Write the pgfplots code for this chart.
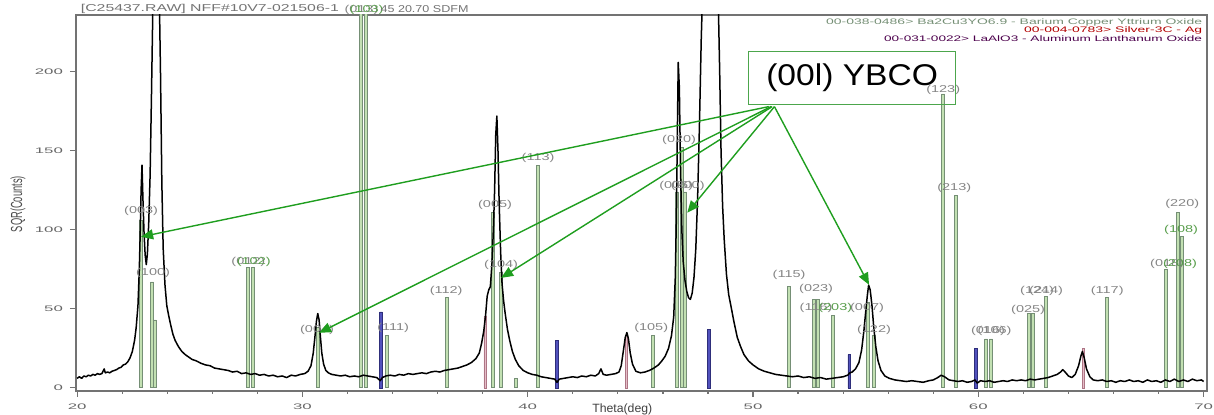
\documentclass[border=0pt]{standalone}
\usepackage{fontspec}
\setmainfont{Liberation Sans}
\usepackage{graphicx}
\usepackage{pgfplots}
\pgfplotsset{compat=1.18}
\usepackage{pgfplotstable}
\usetikzlibrary{arrows.meta}

\definecolor{ybcofill}{rgb}{0.76,0.88,0.70}
\definecolor{ybcoedge}{rgb}{0.46,0.56,0.46}
\definecolor{lafill}{rgb}{0.32,0.32,0.74}
\definecolor{laedge}{rgb}{0.18,0.18,0.48}
\definecolor{agfill}{rgb}{0.90,0.74,0.78}
\definecolor{agedge}{rgb}{0.68,0.46,0.52}
\definecolor{arrowgreen}{rgb}{0.12,0.62,0.12}
\definecolor{boxgreen}{rgb}{0.30,0.65,0.30}
\definecolor{labelgray}{rgb}{0.52,0.52,0.52}
\definecolor{labelgreen}{rgb}{0.35,0.62,0.30}

% measured scan, 2theta (deg) vs sqrt(counts)
\pgfplotstableread{
tt h
20.00 6
20.10 7
20.20 6
20.30 7.5
20.40 7
20.50 8
20.60 7.5
20.70 8.5
20.80 8
20.90 9
21.00 8.5
21.10 9
21.20 12
21.25 9.5
21.35 10
21.45 9.5
21.55 10.5
21.65 11
21.75 11.5
21.85 12.5
21.95 13
22.05 14.5
22.15 15
22.25 16.5
22.35 19
22.45 23
22.55 30
22.62 38
22.70 52
22.76 75
22.80 98
22.84 125
22.88 141
22.92 120
22.97 98
23.02 84
23.07 78
23.12 85
23.18 105
23.24 135
23.30 185
23.36 240
23.42 275
23.50 285
23.58 280
23.64 255
23.70 200
23.76 130
23.82 88
23.90 65
23.98 52
24.06 46
24.15 40
24.25 34
24.35 30
24.50 26
24.65 23
24.80 21
24.95 19.5
25.10 18
25.30 17
25.50 15.5
25.70 14.5
25.90 14
26.10 12.5
26.30 12
26.50 11.5
26.70 11
26.90 10
27.10 10.5
27.30 9
27.50 9.5
27.70 8.5
27.90 9
28.10 8
28.30 8.5
28.50 7.5
28.70 8
28.90 7
29.10 7.5
29.30 6.5
29.50 8
29.70 7.5
29.90 8.5
30.10 9
30.25 10.5
30.38 14
30.48 22
30.56 33
30.62 42
30.68 47
30.74 43
30.80 32
30.86 22
30.94 15
31.04 11
31.15 9.5
31.30 8.5
31.50 8
31.70 7.5
31.90 8
32.10 7
32.30 7.5
32.50 7
32.70 8
32.90 7.5
33.10 7
33.30 6.5
33.45 4.5
33.55 6.5
33.70 7.5
33.90 8
34.10 7.5
34.30 8.5
34.50 8
34.70 9
34.90 8.5
35.10 9
35.30 9.5
35.50 9
35.70 10
35.90 10.5
36.10 10
36.30 11
36.50 11.5
36.70 12
36.90 12.5
37.10 13.5
37.30 14.5
37.50 16
37.70 18.5
37.85 22
37.95 28
38.05 36
38.13 46
38.20 58
38.27 62
38.34 64
38.42 80
38.48 102
38.53 125
38.58 160
38.63 172
38.68 150
38.73 118
38.80 85
38.86 66
38.93 55
39.00 47
39.10 37
39.20 30
39.32 23
39.45 18
39.60 14
39.80 11
40.00 9.5
40.20 8.5
40.40 8
40.60 7
40.80 6.5
41.00 6
41.20 5.5
41.30 3.5
41.40 5.5
41.60 6
41.80 6.5
42.00 7
42.20 6.5
42.40 7.5
42.60 7
42.80 8
43.00 7.5
43.15 9
43.25 12
43.35 8.5
43.50 8
43.70 8.5
43.90 9
44.05 10
44.15 14
44.25 24
44.33 32
44.40 35
44.47 31
44.55 22
44.65 15
44.80 10.5
45.00 9.5
45.20 10
45.40 11
45.60 12.5
45.80 14.5
45.95 17
46.10 20
46.25 25
46.38 33
46.48 45
46.55 70
46.60 110
46.64 160
46.68 206
46.73 190
46.78 140
46.84 100
46.90 80
46.98 68
47.06 61
47.14 57
47.22 56
47.30 60
47.38 70
47.46 88
47.54 120
47.62 165
47.70 220
47.78 260
47.90 285
48.05 295
48.20 290
48.35 275
48.45 250
48.52 200
48.58 150
48.65 115
48.72 94
48.82 72
48.92 59
49.03 51
49.15 42
49.30 32
49.45 26
49.60 21
49.80 17
50.00 14.5
50.25 12
50.50 10.5
50.75 9.5
51.00 8.5
51.25 8
51.50 7.5
51.75 7
52.00 7.5
52.25 6.5
52.50 7
52.75 6
53.00 6.5
53.25 5.5
53.50 6
53.75 6.5
54.00 7
54.20 8
54.30 9.5
54.40 10
54.55 12
54.70 16
54.82 24
54.92 36
55.00 48
55.07 58
55.13 65
55.20 62
55.28 52
55.36 38
55.45 26
55.55 17
55.68 11
55.85 7.5
56.05 6
56.30 5
56.55 4.5
56.80 4
57.05 4.5
57.30 4
57.55 3.5
57.80 4.5
58.00 5
58.20 6.5
58.35 8
58.50 7
58.70 5
58.90 4.5
59.10 4
59.30 4.5
59.50 3.5
59.70 4
59.85 5
59.95 3
60.10 4.5
60.30 4
60.50 4.5
60.70 3.5
60.90 4
61.10 4.5
61.30 4
61.50 5
61.70 4.5
61.90 5
62.10 4.5
62.30 5.5
62.50 5
62.70 5.5
62.90 6
63.10 6.5
63.30 7.5
63.50 8.5
63.65 10
63.75 11.5
63.85 10
64.00 7.5
64.15 6.5
64.30 8.5
64.45 14
64.55 20
64.62 23
64.70 19
64.80 12
64.95 7
65.10 5
65.30 4.5
65.50 5
65.70 4
65.90 4.5
66.10 3.5
66.30 4.5
66.50 4
66.70 5
66.90 4
67.10 4.5
67.30 3.5
67.50 5
67.70 4
67.90 4.5
68.10 3.5
68.30 5
68.50 4
68.70 5.5
68.90 4
69.10 5
69.30 4
69.50 5.5
69.70 4.5
69.90 5
70.00 4
}\scan

% reference pattern 00-038-0486, Ba2Cu3YO6.9
\pgfplotstableread{
tt h
22.84 106
23.33 67
23.45 43
27.59 76
27.81 76
30.70 38
32.60 260
32.83 260
33.76 33
36.42 57
38.46 111
38.82 73
39.49 6
40.46 141
45.57 33
46.63 124
46.85 152
46.99 124
51.60 64
52.71 56
52.89 56
53.56 46
55.11 54
55.37 33
58.44 186
59.01 122
60.35 31
60.57 31
62.26 47
62.43 47
63.01 58
65.72 57
68.34 75
68.87 111
69.05 96
}\ybco

% reference pattern 00-031-0022, LaAlO3
\pgfplotstableread{
tt h
33.49 48
41.30 30
48.05 37
54.27 21
59.90 25
}\lao

% reference pattern 00-004-0783, Ag
\pgfplotstableread{
tt h
38.10 45
44.37 33
64.65 25
}\silver

\newcommand{\wide}[1]{\scalebox{1.45}[1]{#1}}
\newcommand{\hkl}[4][labelgray]{%
  \node[font=\fontsize{5}{5}\selectfont, text=#1, inner sep=0pt] at (axis cs:#2,#3) {\wide{#4}};}

\begin{document}
\begin{tikzpicture}
\useasboundingbox (0,0) rectangle (607pt,207.5pt);
\begin{axis}[
  at={(38pt,12pt)}, anchor=south west,
  width=565.5pt, height=188pt, scale only axis,
  xmin=19.95, xmax=70.15, ymin=-2, ymax=236,
  clip mode=individual,
  axis line style={draw=black!55, line width=0.9pt},
  tick style={draw=black!55, line width=0.6pt},
  tick align=outside,
  major tick length=3pt, minor tick length=1.5pt,
  xtick={20,30,40,50,60,70}, minor x tick num=4,
  ytick={0,50,100,150,200},
  xtick pos=bottom, ytick pos=left,
  /pgf/number format/assume math mode=true,
  xticklabel={\scalebox{2.1}[1]{\pgfmathprintnumber{\tick}}},
  yticklabel={\scalebox{2.1}[1]{\pgfmathprintnumber{\tick}}},
  ticklabel style={font=\fontsize{4}{4}\selectfont, text=black!60},
  xlabel={\resizebox{30pt}{\height}{\fontsize{6}{6}\selectfont Theta(deg)}},
  xlabel style={at={(axis description cs:0.483,-0.048)}, anchor=center, text=black!75, inner sep=0pt},
  ylabel={\resizebox{28pt}{\height}{\fontsize{8}{8}\selectfont SQR(Counts)}},
  ylabel style={at={(axis description cs:-0.0513,0.497)}, anchor=center, text=black!70, inner sep=0pt},
]
% reference sticks
\addplot[ybar, bar shift=0pt, bar width=1.5pt, fill=ybcofill, draw=ybcoedge, line width=0.35pt] table[x=tt,y=h] {\ybco};
\addplot[ybar, bar shift=0pt, bar width=1.4pt, fill=lafill, draw=laedge, line width=0.3pt] table[x=tt,y=h] {\lao};
\addplot[ybar, bar shift=0pt, bar width=1.1pt, fill=agfill, draw=agedge, line width=0.3pt] table[x=tt,y=h] {\silver};
% diffractogram
\addplot[black, line width=0.75pt, line join=round] table[x=tt,y=h] {\scan};

% Miller indices of the YBCO reflections
\hkl{22.84}{112}{(003)}
\hkl{23.37}{72.8}{(100)}
\hkl{27.60}{79.7}{(012)}
\hkl[labelgreen]{27.84}{79.7}{(102)}
\hkl{30.65}{36.7}{(004)}
\hkl{32.62}{239}{(013)}
\hkl[labelgreen]{32.85}{239}{(103)}
\hkl{34.03}{38}{(111)}
\hkl{36.38}{61.4}{(112)}
\hkl{38.55}{115.8}{(005)}
\hkl{38.82}{77.8}{(104)}
\hkl{40.46}{145.6}{(113)}
\hkl{45.48}{38}{(105)}
\hkl{46.72}{157}{(020)}
\hkl{46.59}{128}{(006)}
\hkl{47.10}{128}{(200)}
\hkl{51.60}{71.5}{(115)}
\hkl{52.80}{62.7}{(023)}
\hkl{52.80}{50.6}{(116)}
\hkl[labelgreen]{53.65}{50.6}{(203)}
\hkl{55.06}{50.6}{(007)}
\hkl{55.37}{36.7}{(122)}
\hkl{58.44}{188.6}{(123)}
\hkl{58.93}{126.6}{(213)}
\hkl{60.43}{36}{(016)}
\hkl{60.72}{36}{(106)}
\hkl{62.21}{49.4}{(025)}
\hkl{62.61}{61.4}{(124)}
\hkl{63.01}{61.4}{(214)}
\hkl{65.72}{61.4}{(117)}
\hkl{68.38}{78.5}{(018)}
\hkl[labelgreen]{68.95}{78.5}{(208)}
\hkl[labelgreen]{69.00}{100}{(108)}
\hkl{69.05}{116.5}{(220)}

% file header
\node[anchor=west, inner sep=0pt, text=black!55] at (axis cs:20.15,240) {\resizebox{129pt}{\height}{\fontsize{5}{5}\selectfont [C25437.RAW] NFF\#10V7-021506-1}};
\node[anchor=west, inner sep=0pt, text=black!55] at (axis cs:33.45,240) {\resizebox{44pt}{\height}{\fontsize{5}{5}\selectfont 45 20.70 SDFM}};

% phase list
\node[anchor=east, inner sep=0pt, text=ybcoedge] at (axis cs:69.95,231.5) {\resizebox{188pt}{\height}{\fontsize{4}{4}\selectfont 00-038-0486> Ba2Cu3YO6.9 - Barium Copper Yttrium Oxide}};
\node[anchor=east, inner sep=0pt, text=red!70!black] at (axis cs:69.95,226.5) {\resizebox{89pt}{\height}{\fontsize{4}{4}\selectfont 00-004-0783> Silver-3C - Ag}};
\node[anchor=east, inner sep=0pt, text=violet!60!black] at (axis cs:69.95,221) {\resizebox{159pt}{\height}{\fontsize{4}{4}\selectfont 00-031-0022> LaAlO3 - Aluminum Lanthanum Oxide}};

% (00l) annotation
\node[draw=boxgreen, line width=0.6pt, minimum width=103.5pt, minimum height=26.5pt, inner sep=0pt] at (axis cs:54.4,196) {\scalebox{1.12}[1]{\fontsize{15}{15}\selectfont (00l) YBCO}};
\begin{scope}[arrowgreen, line width=0.7pt, -{Triangle[length=6pt,width=5pt]}]
\draw (axis cs:50.70,178) -- (axis cs:22.84,95.6);
\draw (axis cs:50.80,178) -- (axis cs:30.74,34.8);
\draw (axis cs:50.85,178) -- (axis cs:38.82,69.6);
\draw (axis cs:50.95,178) -- (axis cs:47.08,110.8);
\draw (axis cs:50.95,178) -- (axis cs:55.15,65.2);
\end{scope}
\end{axis}
\end{tikzpicture}
\end{document}
